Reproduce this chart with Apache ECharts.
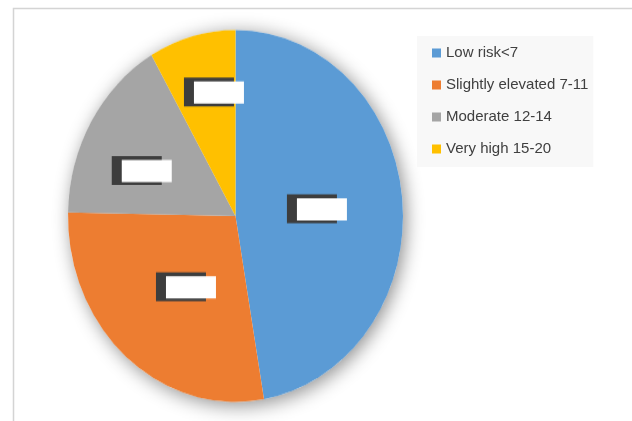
<!DOCTYPE html>
<html>
<head>
<meta charset="utf-8">
<script src="https://cdn.jsdelivr.net/npm/echarts@6/dist/echarts.min.js"></script>
<style>
  html, body { margin: 0; padding: 0; background: #fff; }
  #wrap { position: relative; width: 632px; height: 421px; overflow: hidden; }
  #pie { position: absolute; left: 0; top: 0; width: 632px; height: 421px;
         transform-origin: 235.5px 216px; transform: scaleY(1.11); }
  #legend { position: absolute; left: 0; top: 0; width: 632px; height: 421px; }
</style>
</head>
<body>
<div id="wrap">
  <div id="pie"></div>
  <div id="legend"></div>
</div>
<script>
// ---- data ----
const categories = ['Low risk<7', 'Slightly elevated 7-11', 'Moderate 12-14', 'Very high 15-20'];
const values = [113, 67, 39, 20];
// ---- styles ----
const colors = ['#5B9BD5', '#ED7D31', '#A5A5A5', '#FFC000'];
const labelOffsets = [[-10, 1], [2, -2], [-24, 3], [-4, -28]];

const pieData = categories.map((name, i) => ({
  name: name,
  value: values[i],
  label: { offset: labelOffsets[i] }
}));

const CENTER = [235.5, 216];
const R = 167.5;

const pieChart = echarts.init(document.getElementById('pie'), null, { renderer: 'canvas' });
pieChart.setOption({
  animation: false,
  color: colors,
  series: [
    {
      type: 'pie', z: 1, silent: true,
      center: CENTER, radius: R,
      data: [{ value: 1, name: '_shadow' }],
      itemStyle: { color: '#ffffff', shadowBlur: 18, shadowColor: 'rgba(0,0,0,0.45)', shadowOffsetX: 3, shadowOffsetY: 3 },
      label: { show: false }, labelLine: { show: false }
    },
    {
      type: 'pie', z: 2, silent: true,
      center: CENTER, radius: R,
      startAngle: 90, clockwise: true,
      data: pieData,
      itemStyle: { borderWidth: 0 },
      label: {
        show: true, position: 'inside',
        formatter: () => '{w|\u00a0}',
        width: 30,
        overflow: 'none',
        padding: [3.5, 0, 2.5, 20],
        backgroundColor: '#3d3d3d',
        rich: {
          w: { width: 50, height: 20, backgroundColor: '#ffffff', overflow: 'none' }
        }
      },
      labelLine: { show: false }
    }
  ]
});

const legendChart = echarts.init(document.getElementById('legend'), null, { renderer: 'canvas' });
legendChart.setOption({
  animation: false,
  color: colors,
  graphic: [{
    type: 'rect', silent: true,
    shape: { x: 13.5, y: 8.5, width: 700, height: 500 },
    style: { fill: 'none', stroke: '#d4d4d4', lineWidth: 1.5 }
  }],
  legend: {
    orient: 'vertical', left: 417, top: 36,
    padding: [9, 5, 10, 15],
    itemWidth: 9, itemHeight: 9, itemGap: 16,
    icon: 'rect',
    backgroundColor: '#f8f8f8',
    selectedMode: false,
    textStyle: { fontFamily: 'Liberation Sans', fontSize: 15, color: '#404040', lineHeight: 16 },
    data: categories
  },
  series: [{
    type: 'pie', center: [-100, -100], radius: 0, silent: true,
    data: categories.map((n, i) => ({ name: n, value: values[i] })),
    label: { show: false }, labelLine: { show: false }
  }]
});
</script>
</body>
</html>
